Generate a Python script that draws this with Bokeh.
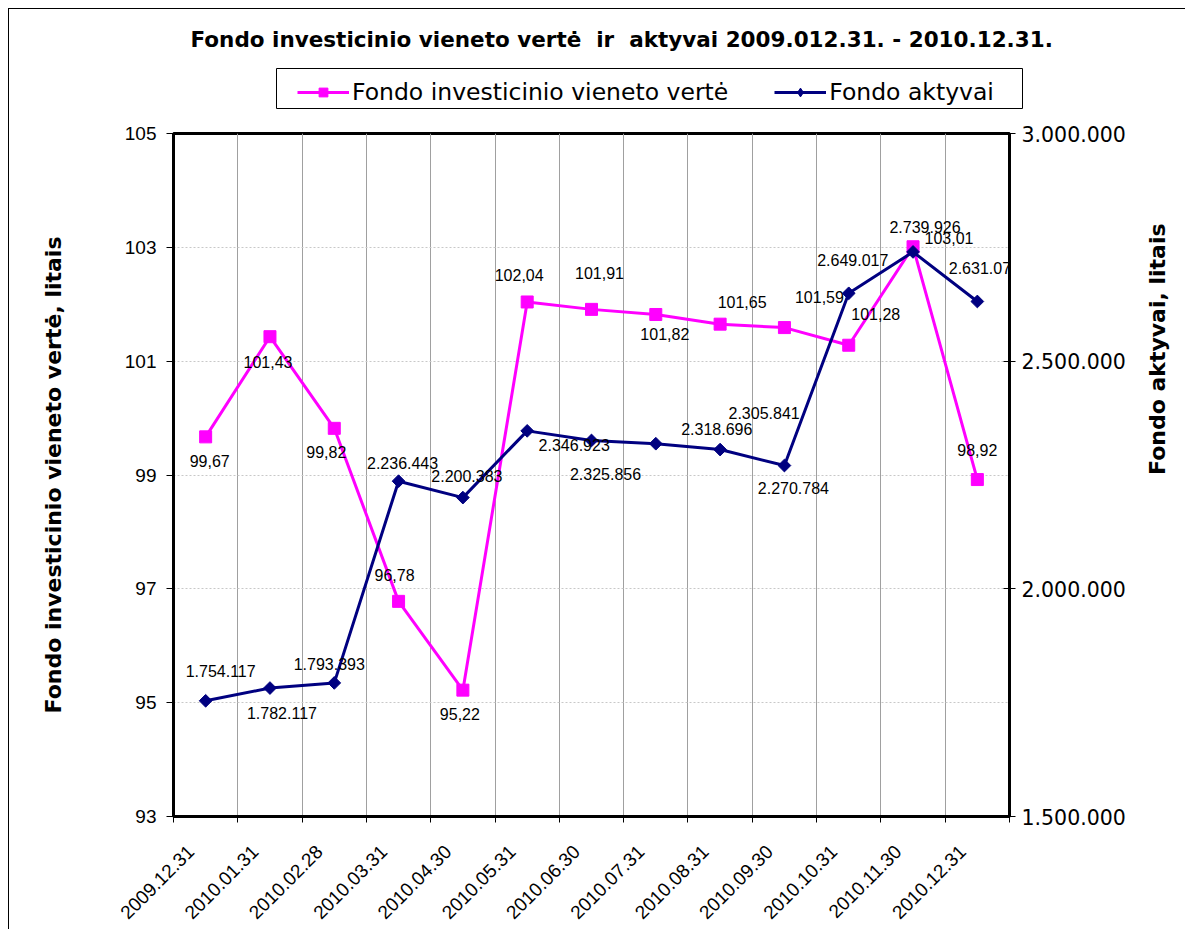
import math
from bokeh.plotting import figure
from bokeh.layouts import column
from bokeh.models import (Range1d, LinearAxis, FixedTicker, Legend, LegendItem,
                          ColumnDataSource, Label, BoxAnnotation)
from bokeh.core.properties import value
from bokeh.embed import file_html
from bokeh.resources import INLINE

# ---------------- data ----------------
dates = ["2009.12.31", "2010.01.31", "2010.02.28", "2010.03.31", "2010.04.30",
         "2010.05.31", "2010.06.30", "2010.07.31", "2010.08.31", "2010.09.30",
         "2010.10.31", "2010.11.30", "2010.12.31"]
unit_value = [99.67, 101.43, 99.82, 96.78, 95.22, 102.04, 101.91, 101.82,
              101.65, 101.59, 101.28, 103.01, 98.92]
assets = [1754117, 1782117, 1793393, 2236443, 2200383, 2346923, 2325856,
          2318696, 2305841, 2270784, 2649017, 2739926, 2631073]
left_ticks = [93, 95, 97, 99, 101, 103, 105]
right_ticks = [1500000, 2000000, 2500000, 3000000]
title_text = "Fondo investicinio vieneto vertė\u00a0 ir\u00a0 aktyvai 2009.012.31. - 2010.12.31."
series_names = ["Fondo investicinio vieneto vertė", "Fondo aktyvai"]

# label offsets in pixels (styling only)
uv_dx = [4, -2, -8, -4, -3, -8, 8, 9, 22, 35, 27, 36, 0]
uv_dy = [24, 25, 24, -26, 24, -27, -36, 20, -22, -31, -31, -9, -30]
as_dx = [15, 12, -5, 4, 4, 47, 14, 61, 44, 9, 4, 12, 7]
as_dy = [-30, 25, -19, -18, -22, 14, 34, -15, -37, 22, -33, -25, -33]

PINK = "#FF00FF"
NAVY = "#000080"

n = len(dates)
xs = [i + 0.5 for i in range(n)]
uv_txt = [f"{v:.2f}".replace(".", ",") for v in unit_value]
as_txt = [f"{v:,}".replace(",", ".") for v in assets]

src_uv = ColumnDataSource(dict(x=xs, y=unit_value, t=uv_txt, dx=uv_dx, dy=uv_dy))
src_as = ColumnDataSource(dict(x=xs, y=assets, t=as_txt, dx=as_dx, dy=as_dy))

# ---------------- header (title + legend) ----------------
# (its ranges keep the series out of view; only the legend samples show)
tf = figure(width=1177, height=111, title=None,
            x_range=Range1d(-2, -1), y_range=Range1d(-2, -1),
            x_axis_type=None, y_axis_type=None,
            output_backend="svg", toolbar_location=None,
            min_border_left=0, min_border_right=0,
            min_border_top=0, min_border_bottom=0)
tf.frame_align = False
tf.outline_line_color = None
tf.background_fill_color = "white"
tf.border_fill_color = "white"
tf.styles = {"border-top": "1px solid black", "border-left": "1px solid black"}

tf.add_layout(Label(x=181, y=81, x_units="screen", y_units="screen",
                    text=title_text, text_font="DejaVu Sans",
                    text_font_size="21.5px", text_font_style="bold",
                    text_color="black", text_baseline="alphabetic"))

tf.add_layout(BoxAnnotation(left=267, right=1013, bottom=12, top=52,
                            left_units="screen", right_units="screen",
                            bottom_units="screen", top_units="screen",
                            fill_color="white", fill_alpha=1,
                            line_color="black", line_alpha=1, line_width=1,
                            level="underlay"))

d1l = tf.line("x", "y", source=src_uv, line_color=PINK, line_width=3)
d1s = tf.scatter("x", "y", source=src_uv, marker="square", size=12,
                 fill_color=PINK, line_color=PINK)
d2l = tf.line("x", "y", source=src_as, line_color=NAVY, line_width=3)
d2s = tf.scatter("x", "y", source=src_as, marker="diamond", size=19,
                 fill_color=NAVY, line_color=NAVY)

legend = Legend(items=[
    LegendItem(label=series_names[0], renderers=[d1l, d1s]),
    LegendItem(label=series_names[1], renderers=[d2l, d2s]),
], orientation="horizontal", location=(288, 14))
legend.label_text_font = "DejaVu Sans"
legend.label_text_font_size = "23.5px"
legend.label_text_color = "black"
legend.glyph_width = 52
legend.glyph_height = 22
legend.label_standoff = 3
legend.spacing = 46
legend.padding = 7
legend.margin = 0
legend.border_line_color = None
legend.background_fill_alpha = 0
tf.add_layout(legend, "center")

# ---------------- main chart ----------------
p = figure(width=1177, height=810, title=None,
           x_range=Range1d(0, n), y_range=Range1d(93, 105),
           output_backend="svg", toolbar_location=None,
           min_border_left=164, min_border_right=177,
           min_border_top=14, min_border_bottom=113)
p.frame_align = False
p.extra_y_ranges = {"assets": Range1d(1500000, 3000000)}
p.background_fill_color = "white"
p.border_fill_color = "white"
p.outline_line_color = "black"
p.outline_line_width = 3
p.styles = {"border-left": "1px solid black"}

# x axis: tick marks at category boundaries (no labels)
xt = FixedTicker(ticks=list(range(n + 1)))
xa = p.xaxis[0]
xa.ticker = xt
xa.major_label_overrides = {i: "" for i in range(n + 1)}
xa.major_label_text_font_size = "1px"
xa.major_label_standoff = 0
xa.axis_line_width = 3
xa.major_tick_out = 6
xa.major_tick_in = 0
xa.minor_tick_line_color = None

# x axis: rotated category labels
xl = LinearAxis(ticker=FixedTicker(ticks=[i + 0.27 for i in range(n)]))
xl.major_label_overrides = {i + 0.27: d for i, d in enumerate(dates)}
xl.major_label_orientation = math.pi / 4
xl.major_label_text_font = "Liberation Sans"
xl.major_label_text_font_size = "19px"
xl.major_label_text_color = "black"
xl.major_label_standoff = 20
xl.axis_line_color = None
xl.major_tick_line_color = None
xl.minor_tick_line_color = None
p.add_layout(xl, "below")

# left axis
p.yaxis.ticker = FixedTicker(ticks=left_ticks)
p.yaxis.major_label_text_font = "Liberation Sans"
p.yaxis.major_label_text_font_size = "19px"
p.yaxis.major_label_text_color = "black"
p.yaxis.axis_line_width = 3
p.yaxis.major_tick_out = 7
p.yaxis.major_tick_in = 0
p.yaxis.minor_tick_line_color = None
p.yaxis.major_label_standoff = 10
p.yaxis.axis_label = "Fondo investicinio vieneto vertė, litais"
p.yaxis.axis_label_text_font = "DejaVu Sans"
p.yaxis.axis_label_text_font_size = "22px"
p.yaxis.axis_label_text_font_style = "bold"
p.yaxis.axis_label_text_color = "black"
p.yaxis.axis_label_standoff = 56

# right axis
ra = LinearAxis(y_range_name="assets", ticker=FixedTicker(ticks=right_ticks))
ra.major_label_overrides = {v: f"{v:,}".replace(",", ".") for v in right_ticks}
ra.major_label_text_font = "DejaVu Sans"
ra.major_label_text_font_size = "20.5px"
ra.major_label_text_color = "black"
ra.axis_line_width = 3
ra.major_tick_out = 6
ra.major_tick_in = 6
ra.minor_tick_line_color = None
ra.major_label_standoff = 6
ra.axis_label = "Fondo aktyvai, litais"
ra.axis_label_orientation = math.pi / 2
ra.axis_label_text_font = "DejaVu Sans"
ra.axis_label_text_font_size = "22px"
ra.axis_label_text_font_style = "bold"
ra.axis_label_text_color = "black"
ra.axis_label_standoff = 29
p.add_layout(ra, "right")

# grids
p.xgrid.ticker = xt
p.xgrid.grid_line_color = "#a0a0a0"
p.xgrid.grid_line_width = 1
p.ygrid.grid_line_color = "#c8c8c8"
p.ygrid.grid_line_dash = "2 2"
p.ygrid.grid_line_width = 1

# series
p.line("x", "y", source=src_uv, line_color=PINK, line_width=3)
p.scatter("x", "y", source=src_uv, marker="square", size=12,
          fill_color=PINK, line_color=PINK)
p.line("x", "y", source=src_as, y_range_name="assets", line_color=NAVY, line_width=3)
p.scatter("x", "y", source=src_as, y_range_name="assets", marker="square",
          angle=math.pi / 4, size=9, fill_color=NAVY, line_color=NAVY)

# data labels
p.text("x", "y", text="t", source=src_uv, x_offset="dx", y_offset="dy",
       text_font=value("Liberation Sans"), text_font_size="16px",
       text_align="center", text_baseline="middle", text_color="black")
p.text("x", "y", text="t", source=src_as, y_range_name="assets",
       x_offset="dx", y_offset="dy",
       text_font=value("Liberation Sans"), text_font_size="16px",
       text_align="center", text_baseline="middle", text_color="black")

layout = column(tf, p, spacing=0)
layout.styles = {"margin-left": "8px", "margin-top": "8px"}

open("out.html", "w").write(file_html(layout, INLINE))
